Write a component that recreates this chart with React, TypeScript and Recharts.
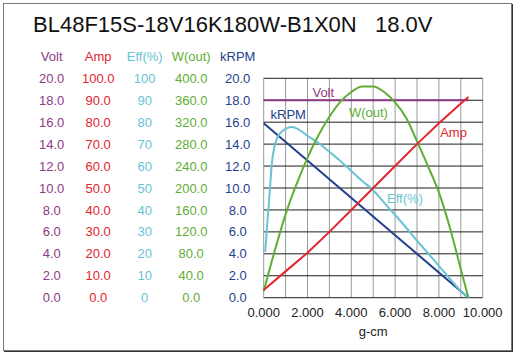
import React from 'react';
import {
  ComposedChart, Line, XAxis, YAxis, CartesianGrid, ReferenceDot,
} from 'recharts';

// torque axis (g-cm)
const torqueTicks = [0, 1, 2, 3, 4, 5, 6, 7, 8, 9, 10];

// left axis tick labels
const voltTicks = [0, 2, 4, 6, 8, 10, 12, 14, 16, 18, 20];
const ampTicks = [0, 10, 20, 30, 40, 50, 60, 70, 80, 90, 100];
const effTicks = [0, 10, 20, 30, 40, 50, 60, 70, 80, 90, 100];
const wattTicks = [0, 40, 80, 120, 160, 200, 240, 280, 320, 360, 400];
const rpmTicks = [0, 2, 4, 6, 8, 10, 12, 14, 16, 18, 20];

// series
const voltTorque = [0, 9.35];
const voltValues = [18, 18];

const ampTorque = [0, 1, 2, 3, 4, 5, 6, 7, 8, 9, 9.35];
const ampValues = [3.5, 12, 20.5, 30, 40, 50, 60, 70, 79.5, 88.5, 91.5];

const effTorque = [0.07, 0.15, 0.22, 0.28, 0.38, 0.5, 0.6, 0.8, 1.0, 1.25, 1.5, 1.7, 2.0, 2.5, 3.0, 3.5, 4.0, 4.5, 5.0, 5.5, 6.0, 6.5, 7.0, 7.5, 8.0, 8.5, 9.0, 9.35];
const effValues = [21, 32, 41, 49, 62, 69, 72.5, 75.5, 77, 77.8, 77.2, 76, 73.8, 70.5, 66.5, 62.3, 57.8, 53.2, 49, 43.3, 37.7, 32, 26, 20.3, 14.5, 8.7, 3, 0];

const wattTorque = [0, 0.5, 1, 1.5, 2, 2.5, 3, 3.5, 4, 4.5, 5, 5.5, 6, 6.5, 7, 7.5, 8, 8.5, 9, 9.35];
const wattValues = [12, 85, 152, 207, 255, 296, 330, 357, 375, 385, 385, 375, 356, 328, 285, 240, 192, 128, 52, 0];

const rpmTorque = [0, 9.35];
const rpmValues = [15.9, 0];

const COLORS = {
  volt: '#8e3a87',
  amp: '#e3262d',
  eff: '#66c4d4',
  watt: '#5fae34',
  rpm: '#243f8e',
};

// axis ids: recharts stacks left axes in id order, first one next to the plot
const RPM = 'a_rpm';
const WATT = 'b_watt';
const EFF = 'c_eff';
const AMP = 'd_amp';
const VOLT = 'e_volt';

const pairs = (xs: number[], ys: number[]) => xs.map((t, i) => ({ t, v: ys[i] }));

const header = (name: string, color: string) => (props: any) => {
  const vb = props.viewBox;
  return (
    <text x={vb.x + vb.width - 26} y={vb.y - 17} textAnchor="middle" fill={color} fontSize={13}>
      {name}
    </text>
  );
};

const FONT = 'Liberation Sans, Arial, Helvetica, sans-serif';

export default function App() {
  const axisCommon = {
    orientation: 'left' as const,
    width: 46.5,
    axisLine: false,
    tickLine: false,
    tickSize: 0,
    tickMargin: 26,
    interval: 0 as const,
  };

  return (
    <div style={{ position: 'absolute', left: 0, top: 0, width: 516, height: 355, background: '#fff', fontFamily: FONT }}>
      <div style={{ position: 'absolute', left: 3, top: 3, width: 507, height: 346, border: '1px solid #777', boxShadow: '1px 1px 0 #333' }} />
      <div style={{ position: 'absolute', left: 33, top: 14, fontSize: 22, lineHeight: '22px', color: '#111', whiteSpace: 'pre' }}>
        {'BL48F15S-18V16K180W-B1X0N   18.0V'}
      </div>
      <div style={{ position: 'absolute', left: 0, top: 0 }}>
        <ComposedChart width={516} height={355} margin={{ top: 78.3, right: 33.3, bottom: 17.3, left: 31.2 }}>
          <XAxis
            dataKey="t"
            type="number"
            domain={[0, 10]}
            ticks={torqueTicks}
            interval={0}
            allowDuplicatedCategory={false}
            axisLine={false}
            tickLine={false}
            tickSize={0}
            tickMargin={10}
            height={40}
            tick={{ fill: '#222', fontSize: 13 }}
            tickFormatter={(v: number) => (v % 2 === 0 ? v.toFixed(3) : '')}
            label={{ value: 'g-cm', position: 'insideBottom', offset: 2, fill: '#222', fontSize: 13 }}
          />
          <YAxis yAxisId={RPM} {...axisCommon} domain={[0, 20]} ticks={rpmTicks}
            tick={{ fill: COLORS.rpm, fontSize: 13, textAnchor: 'middle' }}
            tickFormatter={(v: number) => v.toFixed(1)} label={header('kRPM', COLORS.rpm)} />
          <YAxis yAxisId={WATT} {...axisCommon} domain={[0, 400]} ticks={wattTicks}
            tick={{ fill: COLORS.watt, fontSize: 13, textAnchor: 'middle' }}
            tickFormatter={(v: number) => v.toFixed(1)} label={header('W(out)', COLORS.watt)} />
          <YAxis yAxisId={EFF} {...axisCommon} domain={[0, 100]} ticks={effTicks}
            tick={{ fill: COLORS.eff, fontSize: 13, textAnchor: 'middle' }}
            tickFormatter={(v: number) => String(v)} label={header('Eff(%)', COLORS.eff)} />
          <YAxis yAxisId={AMP} {...axisCommon} domain={[0, 100]} ticks={ampTicks}
            tick={{ fill: COLORS.amp, fontSize: 13, textAnchor: 'middle' }}
            tickFormatter={(v: number) => v.toFixed(1)} label={header('Amp', COLORS.amp)} />
          <YAxis yAxisId={VOLT} {...axisCommon} domain={[0, 20]} ticks={voltTicks}
            tick={{ fill: COLORS.volt, fontSize: 13, textAnchor: 'middle' }}
            tickFormatter={(v: number) => v.toFixed(1)} label={header('Volt', COLORS.volt)} />

          <CartesianGrid yAxisId={VOLT} horizontal={false} stroke="#9a9a9a" strokeWidth={1} />
          <CartesianGrid yAxisId={VOLT} vertical={false} stroke="#1e1e1e" strokeWidth={1} />

          <Line yAxisId={VOLT} data={pairs(voltTorque, voltValues)} dataKey="v" type="linear"
            stroke={COLORS.volt} strokeWidth={2} dot={false} isAnimationActive={false} />
          <Line yAxisId={RPM} data={pairs(rpmTorque, rpmValues)} dataKey="v" type="linear"
            stroke={COLORS.rpm} strokeWidth={2} dot={false} isAnimationActive={false} />
          <Line yAxisId={EFF} data={pairs(effTorque, effValues)} dataKey="v" type="monotone"
            stroke={COLORS.eff} strokeWidth={2} dot={false} isAnimationActive={false} />
          <Line yAxisId={WATT} data={pairs(wattTorque, wattValues)} dataKey="v" type="monotone"
            stroke={COLORS.watt} strokeWidth={2} dot={false} isAnimationActive={false} />
          <Line yAxisId={AMP} data={pairs(ampTorque, ampValues)} dataKey="v" type="linear"
            stroke={COLORS.amp} strokeWidth={2} dot={false} isAnimationActive={false} />

          <ReferenceDot yAxisId={VOLT} x={2.72} y={18.7} r={0} stroke="none"
            label={{ value: 'Volt', position: 'center', fill: COLORS.volt, fontSize: 13 }} />
          <ReferenceDot yAxisId={VOLT} x={1.12} y={16.7} r={0} stroke="none"
            label={{ value: 'kRPM', position: 'center', fill: COLORS.rpm, fontSize: 13 }} />
          <ReferenceDot yAxisId={VOLT} x={4.78} y={16.9} r={0} stroke="none"
            label={{ value: 'W(out)', position: 'center', fill: COLORS.watt, fontSize: 13 }} />
          <ReferenceDot yAxisId={VOLT} x={8.67} y={15.1} r={0} stroke="none"
            label={{ value: 'Amp', position: 'center', fill: COLORS.amp, fontSize: 13 }} />
          <ReferenceDot yAxisId={VOLT} x={6.45} y={9.04} r={0} stroke="none"
            label={{ value: 'Eff(%)', position: 'center', fill: COLORS.eff, fontSize: 13 }} />
        </ComposedChart>
      </div>
    </div>
  );
}
